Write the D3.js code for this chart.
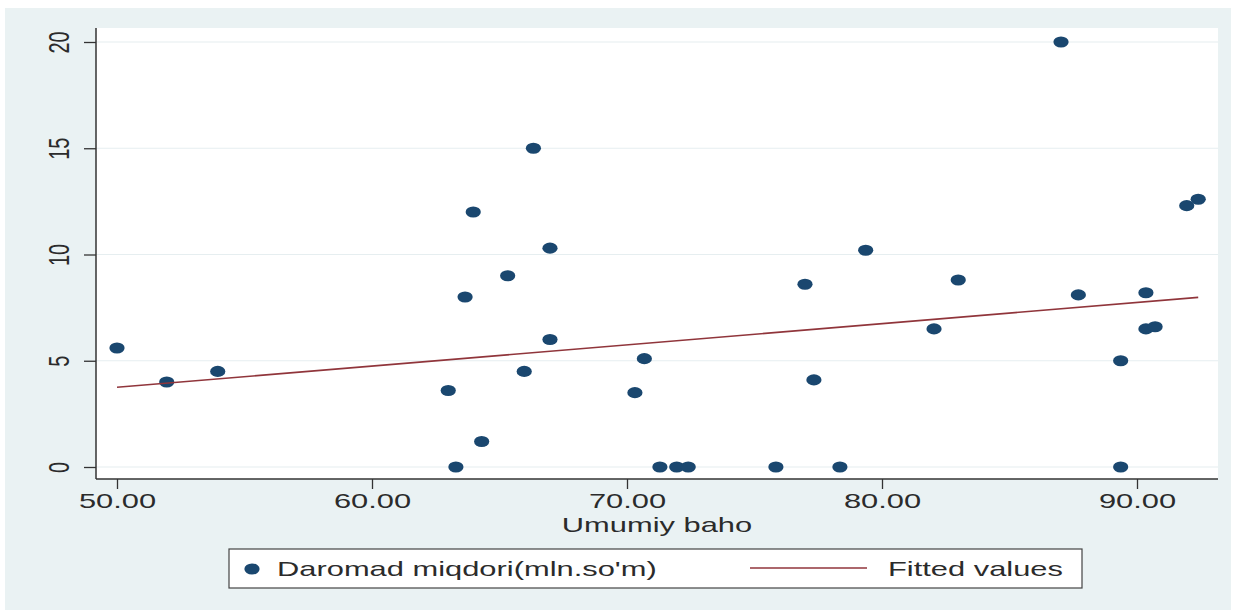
<!DOCTYPE html>
<html>
<head>
<meta charset="utf-8">
<script src="https://cdn.jsdelivr.net/npm/d3@7"></script>
<style>
  html, body { margin: 0; padding: 0; background: #ffffff; }
  svg { display: block; }
  text { font-family: "Liberation Sans", Arial, sans-serif; fill: #2b2b2b; }
</style>
</head>
<body>
<svg id="chart" width="1237" height="611"></svg>
<script>
// ---- data ----
const umumiyBaho = [50.00, 51.95, 53.95, 62.99, 63.29, 63.65, 63.97, 64.30, 65.32, 65.97,
                    66.33, 66.98, 66.98, 70.31, 70.68, 71.29, 71.95, 72.40, 75.84, 76.98,
                    77.33, 78.35, 79.36, 82.04, 82.99, 87.02, 87.70, 89.36, 89.36, 90.35,
                    90.35, 90.71, 91.95, 92.40];
const daromad =    [5.6, 4.0, 4.5, 3.6, 0.0, 8.0, 12.0, 1.2, 9.0, 4.5,
                    15.0, 10.3, 6.0, 3.5, 5.1, 0.0, 0.0, 0.0, 0.0, 8.6,
                    4.1, 0.0, 10.2, 6.5, 8.8, 20.0, 8.1, 5.0, 0.0, 8.2,
                    6.5, 6.6, 12.3, 12.6];
const xTicks = [50, 60, 70, 80, 90];
const yTicks = [0, 5, 10, 15, 20];
const xTitle = "Umumiy baho";
const seriesNames = ["Daromad miqdori(mln.so'm)", "Fitted values"];

// ---- layout ----
const W = 1237, H = 611;
const plot = { left: 96, right: 1218, top: 28, bottom: 479 };
const SX = 1.47;           // horizontal stretch of the reference picture
const navy = "#1a476f", maroon = "#90353b", bg = "#eaf2f3";

const svg = d3.select("#chart");

svg.append("rect").attr("x", 5).attr("y", 8).attr("width", 1226).attr("height", 602).attr("fill", bg);
svg.append("rect").attr("x", plot.left).attr("y", plot.top)
   .attr("width", plot.right - plot.left).attr("height", plot.bottom - plot.top).attr("fill", "#ffffff");

const x = d3.scaleLinear().domain([50, 90]).range([117, 1137]);
const y = d3.scaleLinear().domain([0, 20]).range([467, 42]);

// grid lines
svg.append("g").selectAll("line").data(yTicks).join("line")
  .attr("x1", plot.left).attr("x2", plot.right)
  .attr("y1", d => y(d)).attr("y2", d => y(d))
  .attr("stroke", "#e6eef0").attr("stroke-width", 1.2);

// fitted values (OLS from the data)
const mx = d3.mean(umumiyBaho), my = d3.mean(daromad);
let sxy = 0, sxx = 0;
umumiyBaho.forEach((v, i) => { sxy += (v - mx) * (daromad[i] - my); sxx += (v - mx) * (v - mx); });
const slope = sxy / sxx, intercept = my - slope * mx;
const xmin = d3.min(umumiyBaho), xmax = d3.max(umumiyBaho);
const fitPts = [[xmin, intercept + slope * xmin], [xmax, intercept + slope * xmax]];

// points
const pts = umumiyBaho.map((v, i) => ({ x: v, y: daromad[i] }));
svg.append("g").selectAll("ellipse").data(pts).join("ellipse")
  .attr("cx", d => x(d.x)).attr("cy", d => y(d.y))
  .attr("rx", 7.6).attr("ry", 5.6).attr("fill", navy);

svg.append("path")
  .attr("d", d3.line().x(d => x(d[0])).y(d => y(d[1]))(fitPts))
  .attr("fill", "none").attr("stroke", maroon).attr("stroke-width", 1.6);

// axes
const xAxis = d3.axisBottom(x).tickValues(xTicks).tickFormat(d => d.toFixed(2))
  .tickSize(10).tickSizeOuter(0).tickPadding(4);
const gx = svg.append("g").attr("transform", `translate(0,${plot.bottom})`).call(xAxis);
gx.select(".domain").remove();
gx.selectAll(".tick line").attr("stroke", "#333").attr("stroke-width", 1.3);
gx.selectAll(".tick text").attr("font-size", 21).attr("fill", "#2b2b2b")
  .attr("transform", `scale(${SX},1)`);

const yAxis = d3.axisLeft(y).tickValues(yTicks).tickSize(12).tickSizeOuter(0);
const gy = svg.append("g").attr("transform", `translate(${plot.left},0)`).call(yAxis);
gy.select(".domain").remove();
gy.selectAll(".tick line").attr("stroke", "#333").attr("stroke-width", 1.3);
gy.selectAll(".tick text").attr("font-size", 20).attr("fill", "#2b2b2b")
  .attr("x", null).attr("dy", null).attr("text-anchor", "middle")
  .attr("transform", `translate(-27,0) scale(${SX},1) rotate(-90)`);

// axis lines
svg.append("line").attr("x1", plot.left).attr("x2", plot.right)
  .attr("y1", plot.bottom).attr("y2", plot.bottom).attr("stroke", "#333").attr("stroke-width", 1.5);
svg.append("line").attr("x1", plot.left).attr("x2", plot.left)
  .attr("y1", plot.top).attr("y2", plot.bottom).attr("stroke", "#333").attr("stroke-width", 1.5);

// axis title
svg.append("text").attr("text-anchor", "middle").attr("font-size", 21)
  .attr("transform", `translate(${(plot.left + plot.right) / 2},532) scale(${SX},1)`)
  .text(xTitle);

// legend
const lg = svg.append("g");
lg.append("rect").attr("x", 229).attr("y", 549).attr("width", 853).attr("height", 39)
  .attr("fill", "#ffffff").attr("stroke", "#444").attr("stroke-width", 1.2);
lg.append("ellipse").attr("cx", 252).attr("cy", 569).attr("rx", 7.6).attr("ry", 5.6).attr("fill", navy);
lg.append("text").attr("font-size", 21)
  .attr("transform", `translate(277,576) scale(${SX},1)`).text(seriesNames[0]);
lg.append("line").attr("x1", 750).attr("x2", 867).attr("y1", 568).attr("y2", 568)
  .attr("stroke", maroon).attr("stroke-width", 1.6);
lg.append("text").attr("font-size", 21)
  .attr("transform", `translate(888,576) scale(${SX},1)`).text(seriesNames[1]);
</script>
</body>
</html>
